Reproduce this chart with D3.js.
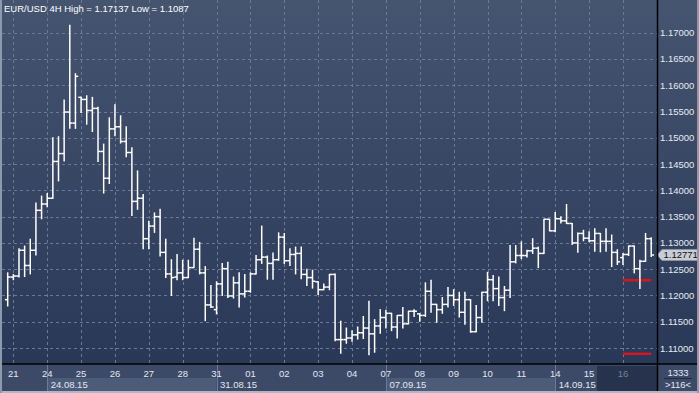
<!DOCTYPE html>
<html>
<head>
<meta charset="utf-8">
<script src="https://cdn.jsdelivr.net/npm/d3@7"></script>
<style>
html, body { margin: 0; padding: 0; background: #2b3a5b; overflow: hidden; }
text { font-family: "Liberation Sans", Arial, sans-serif; font-size: 9.5px; }
</style>
</head>
<body>
<div id="chart"></div>
<script>
// EUR/USD 4H bars, 20.08.15 (last bar) .. 16.09.15
var opens = [
  1.1192,1.1235,1.1237,1.1286,1.1257,1.1286,1.1362,1.1374,1.1385,1.1455,
  1.1470,1.1549,1.1528,1.1577,1.1573,1.1552,1.1556,1.1474,1.1423,1.1517,
  1.1521,1.1493,1.1472,1.1379,1.1385,1.1308,1.1332,1.1350,1.1282,1.1241,
  1.1235,1.1243,1.1234,1.1253,1.1288,1.1243,1.1182,1.1173,1.1222,1.1251,
  1.1199,1.1224,1.1203,1.1208,1.1241,1.1268,1.1273,1.1261,1.1268,1.1311,
  1.1266,1.1278,1.1280,1.1240,1.1234,1.1226,1.1211,1.1216,1.1240,1.1116,
  1.1116,1.1119,1.1125,1.1129,1.1138,1.1127,1.1142,1.1158,1.1166,1.1140,
  1.1162,1.1146,1.1170,1.1165,1.1162,1.1208,1.1183,1.1173,1.1183,1.1200,
  1.1192,1.1168,1.1192,1.1131,1.1158,1.1206,1.1230,1.1213,1.1196,1.1210,
  1.1264,1.1276,1.1276,1.1285,1.1290,1.1280,1.1345,1.1323,1.1346,1.1342,
  1.1337,1.1300,1.1318,1.1309,1.1304,1.1318,1.1303,1.1303,1.1282,1.1272,
  1.1278,1.1294,1.1251,1.1265,1.1308]
var highs = [
  1.1243,1.1240,1.1289,1.1294,1.1307,1.1376,1.1389,1.1394,1.1500,1.1502,
  1.1572,1.1714,1.1622,1.1577,1.1580,1.1577,1.1558,1.1488,1.1538,1.1563,
  1.1542,1.1521,1.1481,1.1437,1.1392,1.1341,1.1357,1.1364,1.1307,1.1268,
  1.1278,1.1267,1.1267,1.1309,1.1301,1.1255,1.1219,1.1226,1.1261,1.1263,
  1.1235,1.1243,1.1240,1.1243,1.1276,1.1332,1.1275,1.1281,1.1319,1.1318,
  1.1289,1.1292,1.1292,1.1250,1.1248,1.1226,1.1222,1.1240,1.1241,1.1151,
  1.1138,1.1133,1.1140,1.1160,1.1189,1.1154,1.1173,1.1172,1.1166,1.1162,
  1.1177,1.1170,1.1173,1.1165,1.1224,1.1229,1.1183,1.1196,1.1215,1.1211,
  1.1206,1.1206,1.1192,1.1181,1.1206,1.1244,1.1238,1.1235,1.1217,1.1295,
  1.1295,1.1302,1.1286,1.1308,1.1292,1.1345,1.1345,1.1358,1.1350,1.1373,
  1.1337,1.1319,1.1324,1.1321,1.1327,1.1318,1.1327,1.1315,1.1287,1.1280,
  1.1294,1.1294,1.1267,1.1318,1.1310]
var lows = [
  1.1180,1.1230,1.1235,1.1236,1.1241,1.1277,1.1346,1.1369,1.1385,1.1418,
  1.1456,1.1518,1.1518,1.1548,1.1526,1.1512,1.1455,1.1395,1.1413,1.1504,
  1.1490,1.1464,1.1352,1.1364,1.1289,1.1289,1.1320,1.1275,1.1234,1.1200,
  1.1230,1.1230,1.1234,1.1253,1.1241,1.1152,1.1177,1.1165,1.1200,1.1196,
  1.1195,1.1178,1.1197,1.1206,1.1241,1.1261,1.1231,1.1231,1.1267,1.1261,
  1.1257,1.1241,1.1232,1.1219,1.1214,1.1202,1.1211,1.1211,1.1114,1.1090,
  1.1109,1.1113,1.1117,1.1118,1.1087,1.1092,1.1128,1.1138,1.1133,1.1119,
  1.1138,1.1146,1.1160,1.1151,1.1160,1.1168,1.1149,1.1166,1.1178,1.1181,
  1.1159,1.1145,1.1130,1.1131,1.1149,1.1190,1.1190,1.1181,1.1171,1.1196,
  1.1262,1.1270,1.1273,1.1280,1.1253,1.1280,1.1323,1.1321,1.1338,1.1337,
  1.1297,1.1282,1.1304,1.1302,1.1284,1.1283,1.1284,1.1255,1.1259,1.1259,
  1.1276,1.1243,1.1213,1.1265,1.1274]
var closes = [
  1.1235,1.1237,1.1286,1.1257,1.1286,1.1362,1.1374,1.1385,1.1455,1.1470,
  1.1549,1.1528,1.1617,1.1573,1.1552,1.1556,1.1474,1.1423,1.1517,1.1521,
  1.1493,1.1472,1.1379,1.1385,1.1308,1.1332,1.1350,1.1282,1.1241,1.1234,
  1.1243,1.1234,1.1253,1.1288,1.1243,1.1182,1.1178,1.1222,1.1251,1.1199,
  1.1224,1.1203,1.1208,1.1241,1.1268,1.1273,1.1261,1.1268,1.1311,1.1266,
  1.1278,1.1280,1.1240,1.1234,1.1227,1.1211,1.1216,1.1240,1.1116,1.1116,
  1.1119,1.1125,1.1129,1.1138,1.1127,1.1142,1.1158,1.1166,1.1140,1.1162,
  1.1146,1.1170,1.1170,1.1162,1.1208,1.1183,1.1173,1.1183,1.1200,1.1192,
  1.1168,1.1192,1.1131,1.1158,1.1206,1.1230,1.1213,1.1196,1.1210,1.1264,
  1.1276,1.1276,1.1285,1.1290,1.1280,1.1345,1.1323,1.1346,1.1342,1.1337,
  1.1300,1.1318,1.1309,1.1304,1.1318,1.1303,1.1303,1.1282,1.1264,1.1278,
  1.1294,1.1251,1.1265,1.1308,1.1277]

var dayLabels = ['21','24','25','26','27','28','31','01','02','03','04','07','08','09','10','11','14','15','16']
var weekLabels = ['24.08.15','31.08.15','07.09.15','14.09.15']
var weekFirstDay = [1, 6, 11, 16]
var priceTicks = [1.110,1.115,1.120,1.125,1.130,1.135,1.140,1.145,1.150,1.155,1.160,1.165,1.170]
var redLevels = [1.1229, 1.1089]
var redFromBar = 109
var lastPrice = 1.12771
var titleText = 'EUR/USD 4H High = 1.17137 Low = 1.1087'
var footTop = '1333', footBottom = '>116<'

var W = 699, H = 393
var plotRight = 657, plotBottom = 364, axisBottom = 391
var barsPerDay = 6

var svg = d3.select('#chart').append('svg')
  .attr('width', W)
  .attr('height', H)

var defs = svg.append('defs')
var grad = defs.append('linearGradient')
  .attr('id', 'bg')
  .attr('x1', 0).attr('y1', 0).attr('x2', 0).attr('y2', 1)
grad.append('stop').attr('offset', '0%').attr('stop-color', '#45546f')
grad.append('stop').attr('offset', '100%').attr('stop-color', '#2a3858')

svg.append('rect')
  .attr('width', W).attr('height', plotBottom)
  .attr('fill', 'url(#bg)')

var x = d3.scaleLinear()
  .domain([0, opens.length - 1])
  .range([7.7, 651.2])

var y = d3.scaleLinear()
  .domain([1.11, 1.17])
  .range([348, 32.7])

function dayX(k) { return x(1 + k * barsPerDay) }

// grid
svg.append('g').selectAll('line')
  .data(priceTicks)
  .enter().append('line')
  .attr('x1', 2).attr('x2', plotRight)
  .attr('y1', function(d) { return Math.round(y(d)) + 0.5 })
  .attr('y2', function(d) { return Math.round(y(d)) + 0.5 })
  .attr('stroke', '#6a7996')
  .attr('stroke-dasharray', '3,3')

svg.append('g').selectAll('line')
  .data(dayLabels)
  .enter().append('line')
  .attr('x1', function(d, k) { return Math.round(dayX(k)) + 0.5 })
  .attr('x2', function(d, k) { return Math.round(dayX(k)) + 0.5 })
  .attr('y1', 0).attr('y2', plotBottom)
  .attr('stroke', '#6a7996')
  .attr('stroke-dasharray', '3,3')

// red levels
svg.append('g').selectAll('line')
  .data(redLevels)
  .enter().append('line')
  .attr('x1', x(redFromBar)).attr('x2', x(opens.length - 1))
  .attr('y1', function(d) { return y(d) }).attr('y2', function(d) { return y(d) })
  .attr('stroke', '#d8141c')
  .attr('stroke-width', 2.5)

// OHLC bars
var tick = 2.8
var bars = svg.append('g')
  .attr('stroke', '#ffffff')
  .attr('stroke-width', 1.5)
  .selectAll('g')
  .data(opens)
  .enter().append('g')

bars.append('line')
  .attr('x1', function(d, i) { return x(i) }).attr('x2', function(d, i) { return x(i) })
  .attr('y1', function(d, i) { return y(highs[i]) - 0.5 })
  .attr('y2', function(d, i) { return y(lows[i]) + 0.5 })
bars.append('line')
  .attr('x1', function(d, i) { return x(i) - tick }).attr('x2', function(d, i) { return x(i) })
  .attr('y1', function(d) { return y(d) }).attr('y2', function(d) { return y(d) })
bars.append('line')
  .attr('x1', function(d, i) { return x(i) }).attr('x2', function(d, i) { return x(i) + tick })
  .attr('y1', function(d, i) { return y(closes[i]) }).attr('y2', function(d, i) { return y(closes[i]) })

// price axis
svg.append('g').selectAll('text')
  .data(priceTicks)
  .enter().append('text')
  .attr('x', 660)
  .attr('y', function(d) { return y(d) + 3.5 })
  .attr('fill', '#e6ebf3')
  .text(function(d) { return d3.format('.5f')(d) })

// last price box
var ly = y(lastPrice)
svg.append('path')
  .attr('d', 'M657,' + ly + ' L662,' + (ly - 5.5) + ' L697,' + (ly - 5.5) + ' L697,' + (ly + 5.5) + ' L662,' + (ly + 5.5) + ' Z')
  .attr('fill', '#c8ccd4')
  .attr('stroke', '#9aa0ab')
  .attr('stroke-width', 0.5)
svg.append('text')
  .attr('x', 663.5).attr('y', ly + 3.5)
  .attr('fill', '#111')
  .text(d3.format('.5f')(lastPrice))

// title
svg.append('text')
  .attr('x', 4).attr('y', 12)
  .attr('fill', '#ffffff')
  .text(titleText)

// time axis
svg.append('rect')
  .attr('x', 0).attr('y', plotBottom)
  .attr('width', W).attr('height', H - plotBottom)
  .attr('fill', '#3c4a67')

weekLabels.forEach(function(w, j) {
  var x0 = dayX(weekFirstDay[j])
  var x1 = j < weekLabels.length - 1 ? dayX(weekFirstDay[j + 1]) : dayX(dayLabels.length - 1) - 26
  if (j % 2 === 0) {
    svg.append('rect')
      .attr('x', x0).attr('y', 378)
      .attr('width', x1 - x0).attr('height', axisBottom - 378)
      .attr('fill', '#4c5b78')
  }
})

// current day box
var cur = dayLabels.length - 1
svg.append('rect')
  .attr('x', dayX(cur) - 26).attr('y', plotBottom + 2)
  .attr('width', plotRight - (dayX(cur) - 26)).attr('height', axisBottom - plotBottom - 2)
  .attr('fill', '#27324d')

svg.append('g').selectAll('line')
  .data(weekFirstDay)
  .enter().append('line')
  .attr('x1', function(d) { return Math.round(dayX(d)) + 0.5 })
  .attr('x2', function(d) { return Math.round(dayX(d)) + 0.5 })
  .attr('y1', plotBottom).attr('y2', axisBottom)
  .attr('stroke', '#6b7a96')

svg.append('g').selectAll('text')
  .data(dayLabels)
  .enter().append('text')
  .attr('x', function(d, k) { return dayX(k) })
  .attr('y', 376.5)
  .attr('text-anchor', 'middle')
  .attr('fill', function(d, k) { return k === cur ? '#75819a' : '#e3e8f0' })
  .text(function(d) { return d })

svg.append('g').selectAll('text')
  .data(weekLabels)
  .enter().append('text')
  .attr('x', function(d, j) { return dayX(weekFirstDay[j]) + 3.5 })
  .attr('y', 387.5)
  .attr('fill', '#e3e8f0')
  .text(function(d) { return d })

// bottom right box
svg.append('text')
  .attr('x', 678).attr('y', 376)
  .attr('text-anchor', 'middle').attr('fill', '#e3e8f0')
  .text(footTop)
svg.append('line')
  .attr('x1', 664).attr('x2', 692).attr('y1', 378.5).attr('y2', 378.5)
  .attr('stroke', '#1f2a40')
svg.append('text')
  .attr('x', 678).attr('y', 388)
  .attr('text-anchor', 'middle').attr('fill', '#e3e8f0')
  .text(footBottom)

// frame lines
svg.append('line')
  .attr('x1', plotRight + 0.5).attr('x2', plotRight + 0.5)
  .attr('y1', 0).attr('y2', axisBottom)
  .attr('stroke', '#000').attr('stroke-width', 1.5)
svg.append('line')
  .attr('x1', 0).attr('x2', W)
  .attr('y1', plotBottom).attr('y2', plotBottom)
  .attr('stroke', '#000').attr('stroke-width', 1.5)
svg.append('rect')
  .attr('x', 0).attr('y', axisBottom)
  .attr('width', W).attr('height', H - axisBottom)
  .attr('fill', '#aeb7c6')
svg.append('rect')
  .attr('x', 0).attr('y', 0)
  .attr('width', 2).attr('height', H)
  .attr('fill', '#8d99ad')
svg.append('rect')
  .attr('x', W - 2).attr('y', 0)
  .attr('width', 2).attr('height', H)
  .attr('fill', '#8d99ad')
</script>
</body>
</html>
